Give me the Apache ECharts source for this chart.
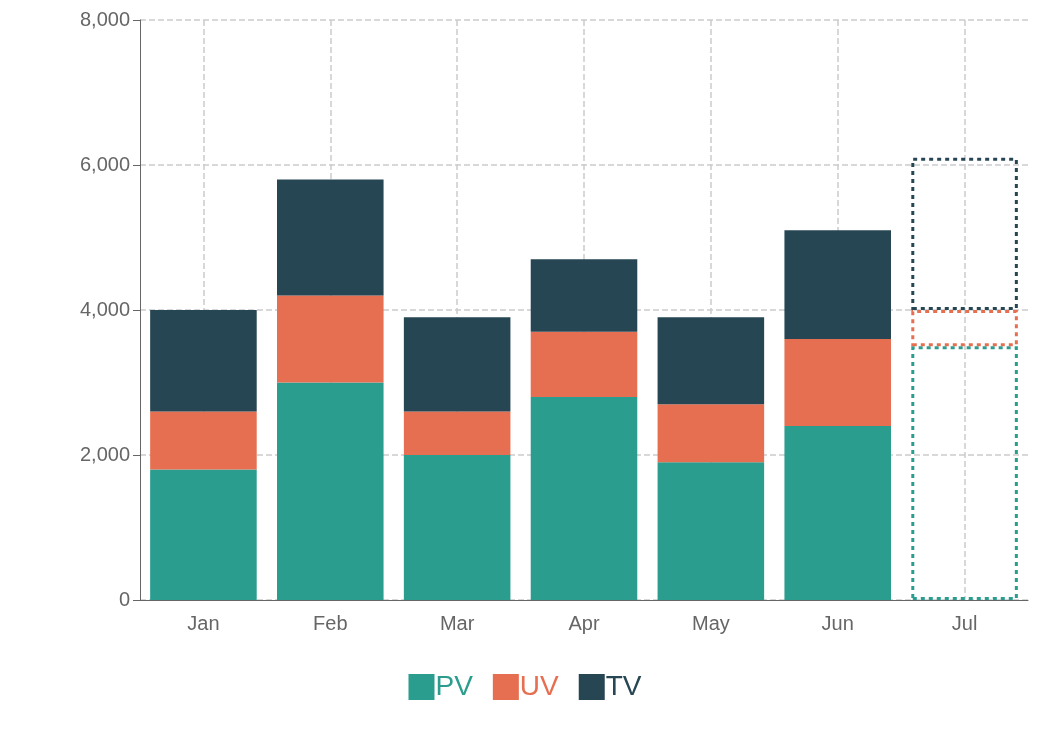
<!DOCTYPE html>
<html>
<head>
<meta charset="utf-8">
<script src="https://cdn.jsdelivr.net/npm/echarts@6/dist/echarts.min.js"></script>
<style>html,body{margin:0;padding:0;background:#fff}#main{width:1050px;height:736px}</style>
</head>
<body>
<div id="main"></div>
<script>
var months = ['Jan', 'Feb', 'Mar', 'Apr', 'May', 'Jun', 'Jul'];
var pv = [1800, 3000, 2000, 2800, 1900, 2400, 3500];
var uv = [800, 1200, 600, 900, 800, 1200, 500];
var tv = [1400, 1600, 1300, 1000, 1200, 1500, 2100];
var colors = ['#2a9d8f', '#e76f51', '#264653'];
var forecastIndex = 6; // Jul is drawn as a dotted outline

function makeData(values, color) {
    return values.map(function (v, i) {
        if (i !== forecastIndex) return v;
        return {
            value: v,
            itemStyle: { color: 'rgba(0,0,0,0)', borderColor: color, borderWidth: 3, borderType: [4, 4] }
        };
    });
}

var myChart = echarts.init(document.getElementById('main'));
var option = {
    color: colors,
    grid: { left: 140, right: 22, top: 20, bottom: 136 },
    legend: {
        bottom: 30,
        itemWidth: 26, itemHeight: 26, itemGap: 20,
        icon: 'rect',
        textStyle: { fontSize: 28, padding: [0, 0, 0, -4] },
        data: [
            { name: 'PV', textStyle: { color: colors[0] } },
            { name: 'UV', textStyle: { color: colors[1] } },
            { name: 'TV', textStyle: { color: colors[2] } }
        ]
    },
    xAxis: {
        type: 'category',
        data: months,
        axisLine: { lineStyle: { color: '#666' } },
        axisTick: { alignWithLabel: true, length: 7, lineStyle: { color: '#666' } },
        axisLabel: { color: '#666', fontSize: 20, margin: 14 },
        splitLine: { show: true, alignWithLabel: true, lineStyle: { type: 'dashed', color: '#ccc', width: 1.5 } }
    },
    yAxis: {
        type: 'value',
        min: 0, max: 8000, interval: 2000,
        axisLine: { show: true, lineStyle: { color: '#666' } },
        axisTick: { show: true, length: 7, lineStyle: { color: '#666' } },
        axisLabel: { color: '#666', fontSize: 20, margin: 10 },
        splitLine: { lineStyle: { type: 'dashed', color: '#ccc', width: 1.5 } }
    },
    series: [
        { name: 'PV', type: 'bar', stack: 'a', barCategoryGap: '16%', data: makeData(pv, colors[0]) },
        { name: 'UV', type: 'bar', stack: 'a', data: makeData(uv, colors[1]) },
        { name: 'TV', type: 'bar', stack: 'a', data: makeData(tv, colors[2]) }
    ]
};
myChart.setOption(option);
</script>
</body>
</html>
